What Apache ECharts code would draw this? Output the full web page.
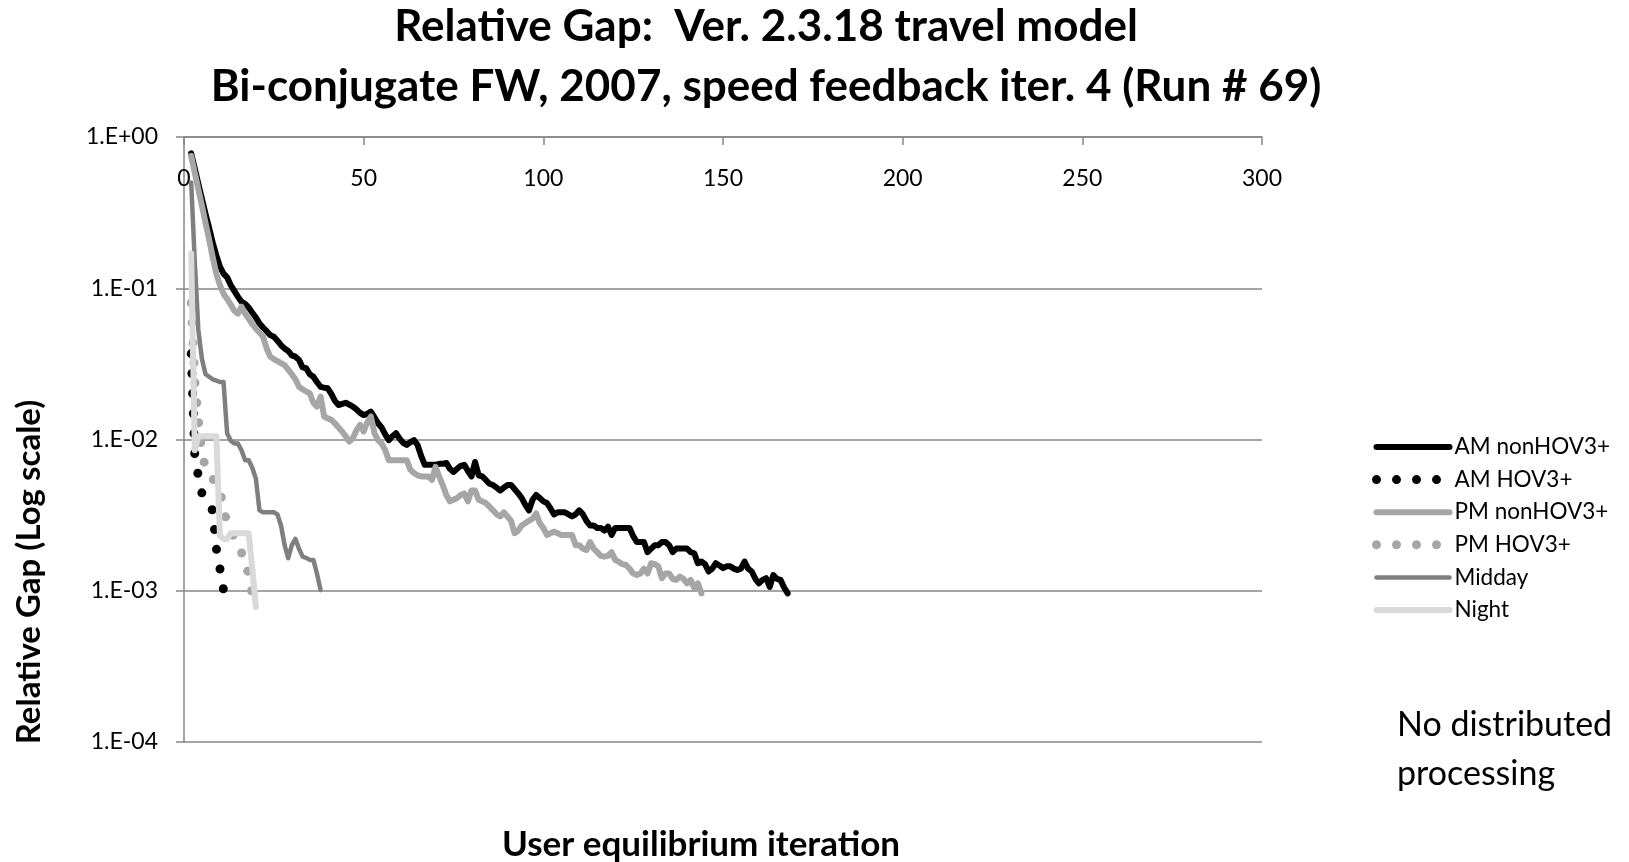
<!DOCTYPE html>
<html>
<head>
<meta charset="utf-8">
<script src="https://cdn.jsdelivr.net/npm/echarts@6/dist/echarts.min.js"></script>
<style>
html,body{margin:0;padding:0;background:#fff;}
#chart{width:1629px;height:862px;}
</style>
</head>
<body>
<div id="chart"></div>
<script>
// ---- Data (iteration starts + relative gap values) ----
var titleLines = ['Relative Gap:  Ver. 2.3.18 travel model', 'Bi-conjugate FW, 2007, speed feedback iter. 4 (Run # 69)'];
var xTickLabels = [0, 50, 100, 150, 200, 250, 300];
var seriesNames = ['AM nonHOV3+', 'AM HOV3+', 'PM nonHOV3+', 'PM HOV3+', 'Midday', 'Night'];
var firstIteration = 2;

var amNonHov = [0.78,0.62,0.49,0.39,0.31,0.25,0.20,0.165,0.139,0.125,0.118,0.105,0.096,0.088,0.0815,0.079,0.0745,0.069,0.064,0.0586,
0.055,0.052,0.049,0.0478,0.045,0.042,0.040,0.0385,0.036,0.0353,0.0336,0.030,0.0296,0.027,0.026,0.024,0.0223,0.022,0.0218,0.020,
0.018,0.0169,0.0172,0.0175,0.017,0.0165,0.0158,0.015,0.0145,0.0148,0.0153,0.014,0.0128,0.012,0.0108,0.0099,0.0105,0.011,0.0101,0.0095,
0.0092,0.0096,0.0099,0.0092,0.0078,0.0068,0.0068,0.0068,0.0068,0.0069,0.0069,0.007,0.0064,0.0061,0.0064,0.0067,0.0068,0.0062,0.0057,0.0071,
0.0058,0.0057,0.0054,0.0051,0.005,0.0048,0.0046,0.0048,0.005,0.005,0.0047,0.0044,0.0041,0.0037,0.0034,0.004,0.0043,0.0041,0.0039,0.0038,
0.0035,0.0032,0.0033,0.0033,0.0033,0.0032,0.0031,0.0032,0.0034,0.0032,0.0029,0.0027,0.0027,0.0026,0.0026,0.0025,0.00265,0.00234,0.0026,0.0026,
0.0026,0.0026,0.0026,0.0023,0.0021,0.0021,0.0021,0.0018,0.0019,0.002,0.002,0.0021,0.0021,0.002,0.0018,0.0019,0.0019,0.0019,0.0019,0.0018,
0.00177,0.00152,0.00156,0.0015,0.00134,0.0014,0.00152,0.00147,0.00141,0.00145,0.00145,0.0014,0.00137,0.0014,0.00156,0.0014,0.00134,0.0012,0.00112,0.00118,
0.00121,0.00106,0.00127,0.0012,0.00118,0.00105,0.00096];

var amHov = [0.037,0.0078,0.0057,0.0044,0.0040,0.0036,0.0034,0.0019,0.0014,0.00101];

var pmNonHov = [0.75,0.58,0.45,0.35,0.27,0.21,0.16,0.125,0.105,0.092,0.085,0.078,0.071,0.068,0.0755,0.068,0.063,0.058,0.054,0.051,
0.0478,0.04,0.0353,0.034,0.033,0.032,0.031,0.029,0.027,0.025,0.0223,0.0215,0.0208,0.0202,0.0175,0.0165,0.0192,0.0142,0.0138,0.0135,
0.0128,0.012,0.0113,0.0105,0.0097,0.0102,0.0115,0.0125,0.0113,0.013,0.0142,0.011,0.0099,0.0094,0.0085,0.0073,0.0073,0.0073,0.0073,0.0073,
0.0073,0.0063,0.006,0.0058,0.0057,0.0057,0.0057,0.0054,0.0066,0.0057,0.005,0.0043,0.0039,0.004,0.0041,0.0043,0.0044,0.0039,0.0046,0.0046,
0.004,0.0039,0.0038,0.0036,0.0034,0.0032,0.0031,0.0033,0.0031,0.0029,0.0024,0.0025,0.0027,0.0028,0.0029,0.003,0.00325,0.0028,0.0026,0.00234,
0.0024,0.00246,0.0024,0.00234,0.00234,0.00234,0.00234,0.0020,0.002,0.0019,0.00186,0.0021,0.0019,0.0018,0.0017,0.00168,0.0017,0.0018,0.0016,0.00155,
0.0015,0.00148,0.0014,0.0013,0.00127,0.0013,0.0014,0.0013,0.00152,0.0015,0.00145,0.00121,0.0013,0.0013,0.0012,0.00118,0.00124,0.0012,0.00112,0.00118,
0.00104,0.00112,0.00096];

var pmHov = [0.08,0.0247,0.0135,0.0079,0.0066,0.0058,0.0055,0.0051,0.0047,0.0034,0.00285,0.0026,0.0022,0.0019,0.00178,0.0017,0.00123,0.00095];

var midday = [0.50,0.15,0.053,0.034,0.027,0.026,0.025,0.0245,0.024,0.024,0.011,0.0098,0.0094,0.0094,0.0085,0.0073,0.0073,0.0065,0.0055,0.0034,
0.0033,0.0033,0.0033,0.0033,0.0032,0.0027,0.0020,0.00164,0.0020,0.0022,0.0019,0.00168,0.00165,0.0016,0.0016,0.0013,0.00101];

var night = [0.17,0.0085,0.0105,0.0105,0.0105,0.0105,0.0105,0.0105,0.0023,0.0022,0.0022,0.0024,0.0024,0.0024,0.0024,0.0024,0.0024,0.0014,0.00078];

var noteLines = ['No distributed', 'processing'];

// ---- Build chart ----
function toPairs(values) {
  return values.map(function (v, i) { return [firstIteration + i, v]; });
}
var FONT = 'Lato, "Noto Sans", sans-serif';
var GRID_COLOR = '#868686';

var seriesData = [amNonHov, amHov, pmNonHov, pmHov, midday, night];
var seriesStyle = [
  {color: '#000000', width: 6, type: 'solid'},
  {color: '#000000', width: 9, type: [0, 20]},
  {color: '#a6a6a6', width: 6, type: 'solid'},
  {color: '#a6a6a6', width: 9, type: [0, 20]},
  {color: '#7f7f7f', width: 4.5, type: 'solid'},
  {color: '#d9d9d9', width: 6, type: 'solid'}
];

var series = seriesNames.map(function (name, k) {
  var st = seriesStyle[k];
  return {
    name: name,
    type: 'line',
    data: toPairs(seriesData[k]),
    showSymbol: false,
    symbol: 'none',
    smooth: false,
    itemStyle: {color: st.color},
    lineStyle: {color: st.color, width: st.width, type: st.type, cap: 'round', join: 'round'},
    emphasis: {disabled: true},
    animation: false
  };
});

function logLabel(v) {
  var e = Math.round(Math.log10(v));
  var s = String(Math.abs(e));
  if (s.length < 2) s = '0' + s;
  return '1.E' + (e < 0 ? '-' : '+') + s;
}

var chart = echarts.init(document.getElementById('chart'), null, {renderer: 'canvas'});
chart.setOption({
  animation: false,
  backgroundColor: '#ffffff',
  grid: {left: 184, top: 137, right: 367, bottom: 120, containLabel: false},
  xAxis: {
    type: 'value',
    position: 'top',
    min: xTickLabels[0],
    max: xTickLabels[xTickLabels.length - 1],
    interval: xTickLabels[1] - xTickLabels[0],
    axisLine: {show: true, lineStyle: {color: GRID_COLOR, width: 1.5}},
    axisTick: {show: true, inside: true, length: 8, lineStyle: {color: GRID_COLOR, width: 1.5}},
    axisLabel: {inside: true, margin: 30, color: '#000', fontFamily: FONT, fontSize: 23},
    splitLine: {show: false}
  },
  yAxis: {
    type: 'log',
    logBase: 10,
    min: 0.0001,
    max: 1,
    axisLine: {show: true, lineStyle: {color: GRID_COLOR, width: 1.5}},
    axisTick: {show: true, inside: false, length: 8, lineStyle: {color: GRID_COLOR, width: 1.5}},
    axisLabel: {margin: 26, color: '#000', fontFamily: FONT, fontSize: 23, formatter: logLabel},
    splitLine: {show: true, lineStyle: {color: GRID_COLOR, width: 1.5}}
  },
  legend: {
    show: true,
    orient: 'vertical',
    left: 1372,
    top: 435,
    padding: 0,
    itemWidth: 73,
    itemHeight: 1,
    itemGap: 8.6,
    data: seriesNames,
    selectedMode: false,
    lineStyle: {width: 'inherit', type: 'inherit', cap: 'round'},
    itemStyle: {opacity: 0, borderWidth: 0},
    textStyle: {color: '#000', fontFamily: FONT, fontSize: 22.5, lineHeight: 24}
  },
  graphic: [
    {type: 'text', x: 766, y: 27, style: {text: titleLines[0], fill: '#000', font: 'bold 44px ' + FONT, textAlign: 'center', textVerticalAlign: 'middle'}},
    {type: 'text', x: 766, y: 87, style: {text: titleLines[1], fill: '#000', font: 'bold 44px ' + FONT, textAlign: 'center', textVerticalAlign: 'middle'}},
    {type: 'text', x: 701, y: 845, style: {text: 'User equilibrium iteration', fill: '#000', font: 'bold 35px ' + FONT, textAlign: 'center', textVerticalAlign: 'middle'}},
    {type: 'text', x: 29, y: 572, rotation: Math.PI / 2, style: {text: 'Relative Gap (Log scale)', fill: '#000', font: 'bold 33px ' + FONT, textAlign: 'center', textVerticalAlign: 'middle'}},
    {type: 'text', x: 1397, y: 725, style: {text: noteLines[0], fill: '#000', font: '34px ' + FONT, textAlign: 'left', textVerticalAlign: 'middle'}},
    {type: 'text', x: 1397, y: 774, style: {text: noteLines[1], fill: '#000', font: '34px ' + FONT, textAlign: 'left', textVerticalAlign: 'middle'}}
  ],
  series: series
});
</script>
</body>
</html>
